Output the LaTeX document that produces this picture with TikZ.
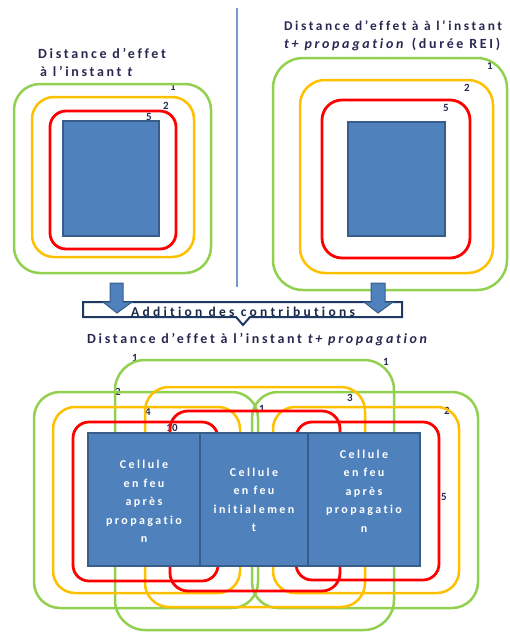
\documentclass[tikz,border=0pt]{standalone}
\usepackage{fontspec}
\setmainfont{Carlito}
\newfontfamily\headfont[LetterSpace=19,Ligatures=NoCommon]{Carlito}
\newfontfamily\cellfont[LetterSpace=20,Ligatures=NoCommon]{Carlito}
\newfontfamily\addfont[LetterSpace=24,Ligatures=NoCommon]{Carlito}
\newfontfamily\numfont{Carlito}
\definecolor{cgreen}{RGB}{146,208,80}
\definecolor{corange}{RGB}{255,192,0}
\definecolor{cred}{RGB}{255,0,0}
\definecolor{cblue}{RGB}{79,129,189}
\definecolor{cbord}{RGB}{56,93,138}
\definecolor{ctext}{RGB}{40,40,82}
\definecolor{cnavy}{RGB}{31,56,100}
\tikzset{
  gline/.style={draw=cgreen, line width=2.5, rounded corners=26},
  oline/.style={draw=corange, line width=2.5, rounded corners=22},
  rline/.style={draw=cred, line width=2.8, rounded corners=16},
  cell/.style={fill=cblue, draw=cbord, line width=1.5, inner sep=0},
  num/.style={font=\numfont\bfseries\fontsize{11}{11}\selectfont, text=ctext, inner sep=0},
  head/.style={font=\headfont\bfseries\fontsize{14}{14}\selectfont, text=ctext, anchor=west, inner sep=0},
  celltext/.style={text=white, font=\cellfont\bfseries\fontsize{12}{18.5}\selectfont, align=center, inner sep=0},
  blockarrow/.style={fill=cblue, draw=cbord, line width=1},
}
\begin{document}
\begin{tikzpicture}[x=1pt,y=-1pt]
\useasboundingbox (0,0) rectangle (510,633);

% separator
\draw[cblue!80, line width=1.2] (237,8) -- (237,287);

% ---------- top-left panel
\node[head] (tlh1) at (38,53) {Distance d’effet};
\node[head] (tlh2) at (40,71) {à l’instant \textit{t}};
\node[num] (tl1) at (173,87) {1};
\node[num] (tl2) at (166,106) {2};
\node[num] (tl5) at (149,117) {5};
\draw[gline] (14,84) rectangle (211,273);
\draw[oline] (32,97) rectangle (194,257);
\draw[rline] (50,111) rectangle (176,249);
\node[cell, minimum width=96, minimum height=115] (tlcell) at (111,178.5) {};

% ---------- top-right panel
\node[head, font=\headfont\bfseries\fontsize{13.4}{14}\selectfont] (trh1) at (284,26) {Distance d’effet à à l’instant};
\node[head] (trh2) at (284,44) {\textit{t+ propagation} (durée REI)};
\node[num] (tr1) at (490,66) {1};
\node[num] (tr2) at (467,88) {2};
\node[num] (tr5) at (446,108) {5};
\draw[gline, rounded corners=30] (273,58) rectangle (507,290);
\draw[oline, rounded corners=25] (300,80) rectangle (493,273);
\draw[rline, rounded corners=20] (322,100) rectangle (470,258);
\node[cell, minimum width=97, minimum height=114] (trcell) at (396.5,179) {};

% ---------- addition box
\draw[fill=white, draw=cnavy, line width=2] (83,302) -- (402,302) -- (402,317) -- (250,317) -- (243,325) -- (236,317) -- (83,317) -- cycle;
\node[font=\addfont\bfseries\fontsize{13.5}{13.5}\selectfont, text=cnavy!70!black, inner sep=0] (add) at (243,311.5) {Addition des contributions};
\draw[blockarrow] (110,283) -- (123,283) -- (123,302) -- (132,302) -- (117,313) -- (103,302) -- (110,302) -- cycle;
\draw[blockarrow] (371,283) -- (385,283) -- (385,302) -- (393,302) -- (378,313) -- (364,302) -- (371,302) -- cycle;

\node[head] (bh) at (87,340) {Distance d’effet à l’instant \textit{t+ propagation}};

% ---------- bottom labels
\node[num] (b1a) at (135,358) {1};
\node[num] (b1b) at (386,362) {1};
\node[num] (b2a) at (118,392) {2};
\node[num] (b4) at (148,412) {4};
\node[num] (b10) at (172,428) {10};
\node[num] (b3) at (350,398) {3};
\node[num] (b1c) at (262,409) {1};
\node[num] (b2b) at (447,411) {2};
\node[num] (b5) at (444,497) {5};

% ---------- bottom contours
\draw[gline] (34,392) rectangle (258,608);
\draw[gline] (252,392) rectangle (478,608);
\draw[gline, rounded corners=30] (115,360) rectangle (394,630);
\draw[oline] (53,407) rectangle (240,593);
\draw[oline, rounded corners=24] (145,387) rectangle (365,607);
\draw[oline] (273,407) rectangle (459,593);
\draw[rline] (73,422) rectangle (218,581);
\draw[rline, rounded corners=18] (170,411) rectangle (340,591);
\draw[rline] (296,422) rectangle (439,580);

% ---------- bottom cells
\node[cell, minimum width=112, minimum height=133] (c1) at (144,499.5) {};
\node[cell, minimum width=108, minimum height=133] (c2) at (254,499.5) {};
\node[cell, minimum width=112, minimum height=133] (c3) at (364,499.5) {};
\node[celltext] (t1) at (144,501.5) {Cellule\\en feu\\après\\propagatio\\n};
\node[celltext] (t2) at (254,500) {Cellule\\en feu\\initialemen\\t};
\node[celltext] (t3) at (364,491) {Cellule\\en feu\\après\\propagatio\\n};
\end{tikzpicture}
\end{document}
